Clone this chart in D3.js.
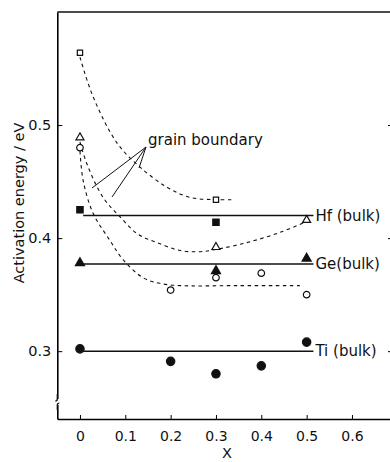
<!DOCTYPE html>
<html>
<head>
<meta charset="utf-8">
<script src="https://cdn.jsdelivr.net/npm/d3@7"></script>
<style>
  body { margin: 0; background: #fff; }
  text { font-family: "DejaVu Sans", sans-serif; fill: #111; }
</style>
</head>
<body>
<div id="chart"></div>
<script>
// measured points (x, activation energy in eV)
const hfBulk = [[0, 0.425], [0.3, 0.414]];
const hfGrain = [[0, 0.564], [0.3, 0.434]];
const geBulk = [[0, 0.378], [0.3, 0.371], [0.5, 0.382]];
const geGrain = [[0, 0.489], [0.3, 0.392], [0.5, 0.416]];
const tiBulk = [[0, 0.302], [0.2, 0.291], [0.3, 0.280], [0.4, 0.287], [0.5, 0.308]];
const tiGrain = [[0, 0.480], [0.2, 0.354], [0.3, 0.365], [0.4, 0.369], [0.5, 0.350]];

// hand-drawn dashed guide curves
const hfGrainCurve = [[0, 0.560], [0.029, 0.525], [0.082, 0.484], [0.132, 0.463], [0.192, 0.445],
  [0.243, 0.436], [0.298, 0.434], [0.335, 0.434]];
const geGrainCurve = [[0, 0.485], [0.015, 0.466], [0.051, 0.436], [0.088, 0.419], [0.126, 0.404],
  [0.170, 0.396], [0.221, 0.389], [0.265, 0.388], [0.300, 0.390], [0.368, 0.396], [0.441, 0.405], [0.496, 0.414]];
const tiGrainCurve = [[0, 0.477], [0.007, 0.451], [0.029, 0.422], [0.066, 0.398], [0.095, 0.381],
  [0.139, 0.365], [0.176, 0.360], [0.221, 0.358], [0.35, 0.358], [0.485, 0.358]];

// bulk reference levels
const bulkNames = ['Hf (bulk)', 'Ge(bulk)', 'Ti (bulk)'];
const bulkLevels = [0.420, 0.377, 0.300];
const bulkRange = [0.007, 0.515];

const xTicks = [0, 0.1, 0.2, 0.3, 0.4, 0.5, 0.6];
const yTicks = [0.3, 0.4, 0.5];

const W = 390, H = 462;
const svg = d3.select('#chart').append('svg')
  .attr('width', W).attr('height', H);

const x = d3.scaleLinear().domain([-0.05, 0.7]).range([57.3, 397.3]);
const y = d3.scaleLinear().domain([0.24, 0.6]).range([419, 12]);
const rightEdge = 392;

// axes
svg.append('g')
  .attr('transform', 'translate(0,' + y(0.24) + ')')
  .call(d3.axisBottom(x).tickValues(xTicks).tickSizeInner(-4).tickSizeOuter(0).tickPadding(12)
    .tickFormat(d => d === 0 ? '0' : d3.format('.1f')(d)))
  .call(g => g.select('.domain').attr('stroke-width', 1.6))
  .call(g => g.selectAll('text').attr('font-size', 14).attr('font-family', '"DejaVu Sans", sans-serif'));

svg.append('g')
  .attr('transform', 'translate(' + x(-0.05) + ',0)')
  .call(d3.axisLeft(y).tickValues(yTicks).tickSizeInner(-5).tickSizeOuter(0).tickPadding(6)
    .tickFormat(d3.format('.1f')))
  .call(g => g.select('.domain').attr('stroke-width', 1.6))
  .call(g => g.selectAll('text').attr('font-size', 14.5).attr('font-family', '"DejaVu Sans", sans-serif'));

svg.append('g')
  .attr('transform', 'translate(' + rightEdge + ',0)')
  .call(d3.axisRight(y).tickValues(yTicks).tickSizeInner(-4).tickSizeOuter(0).tickFormat(''))
  .call(g => g.select('.domain').attr('stroke-width', 1.4));

// top frame
svg.append('line')
  .attr('x1', x(-0.05)).attr('x2', rightEdge)
  .attr('y1', y(0.6)).attr('y2', y(0.6))
  .attr('stroke', '#111').attr('stroke-width', 1.6);

// axis break mark
const bx = x(-0.05), by = y(0.255);
svg.append('rect').attr('x', bx - 3).attr('y', by - 3).attr('width', 6).attr('height', 6).attr('fill', '#fff');
svg.append('path')
  .attr('d', `M${bx},${by - 8} v5 q0,2 -2,2 M${bx},${by + 8} v-5 q0,-2 2,-2`)
  .attr('fill', 'none').attr('stroke', '#111').attr('stroke-width', 1.3);

// bulk lines and labels
bulkLevels.forEach((v, i) => {
  svg.append('line')
    .attr('x1', x(bulkRange[0])).attr('x2', x(bulkRange[1]))
    .attr('y1', y(v)).attr('y2', y(v))
    .attr('stroke', '#111').attr('stroke-width', 1.5);
  svg.append('text')
    .attr('x', x(bulkRange[1]) + 2).attr('y', y(v))
    .attr('dy', '0.35em')
    .attr('font-size', 15)
    .text(bulkNames[i]);
});

// dashed guide curves
const line = d3.line().x(d => x(d[0])).y(d => y(d[1])).curve(d3.curveCatmullRom);
[hfGrainCurve, geGrainCurve, tiGrainCurve].forEach(c => {
  svg.append('path')
    .attr('d', line(c))
    .attr('fill', 'none').attr('stroke', '#111')
    .attr('stroke-width', 1.1).attr('stroke-dasharray', '3.5,3.5');
});

// markers
function marks(data, type, size, filled) {
  svg.append('g').selectAll('path')
    .data(data)
    .join('path')
      .attr('transform', d => 'translate(' + x(d[0]) + ',' + y(d[1]) + ')')
      .attr('d', d3.symbol().type(type).size(size)())
      .attr('fill', filled ? '#111' : '#fff')
      .attr('stroke', '#111')
      .attr('stroke-width', 1.2);
}
marks(hfBulk, d3.symbolSquare, 40, true);
marks(hfGrain, d3.symbolSquare, 28, false);
marks(geBulk, d3.symbolTriangle, 36, true);
marks(geGrain, d3.symbolTriangle, 28, false);
marks(tiBulk, d3.symbolCircle, 55, true);
marks(tiGrain, d3.symbolCircle, 34, false);

// grain boundary annotation
const ax = 146, ay = 147;
[[92, 188], [112, 197], [139, 168]].forEach(p => {
  svg.append('line')
    .attr('x1', ax).attr('y1', ay).attr('x2', p[0]).attr('y2', p[1])
    .attr('stroke', '#111').attr('stroke-width', 1);
});
svg.append('text')
  .attr('x', 148).attr('y', 145)
  .attr('font-size', 15)
  .text('grain boundary');

// axis titles
svg.append('text')
  .attr('transform', 'translate(24,' + 203 + ') rotate(-90)')
  .attr('text-anchor', 'middle')
  .attr('font-size', 14.5)
  .text('Activation energy / eV');
svg.append('text')
  .attr('x', 227).attr('y', 458)
  .attr('text-anchor', 'middle')
  .attr('font-size', 14.5)
  .text('X');
</script>
</body>
</html>
